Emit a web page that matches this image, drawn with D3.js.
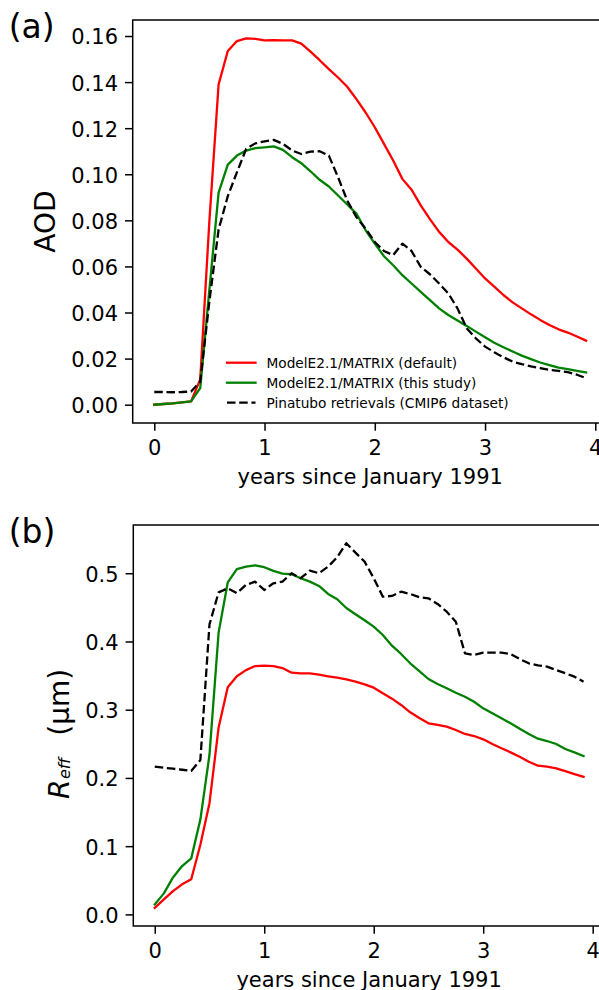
<!DOCTYPE html>
<html>
<head>
<meta charset="utf-8">
<script src="https://cdn.jsdelivr.net/npm/d3@7/dist/d3.min.js"></script>
<style>
  html, body { margin: 0; padding: 0; background: #ffffff; }
  svg { display: block; font-family: "DejaVu Sans", sans-serif; }
</style>
</head>
<body>
<svg id="fig" width="599" height="990"></svg>
<script>
// Monthly model output, January 1991 onwards (48 months)
const monthIndex = d3.range(48);
const years = monthIndex.map(m => m / 12);

// Panel (a): aerosol optical depth
const aodDefault = [0.0, 0.0003, 0.0006, 0.001, 0.0014, 0.011, 0.08, 0.139, 0.1535, 0.1578,
  0.159, 0.1588, 0.1581, 0.1582, 0.1581, 0.1581, 0.1567, 0.1532, 0.1495, 0.1456,
  0.142, 0.138, 0.1326, 0.1268, 0.1204, 0.1132, 0.106, 0.098, 0.0933, 0.0865,
  0.0805, 0.075, 0.0706, 0.0673, 0.0634, 0.0591, 0.0548, 0.0512, 0.0476, 0.0444,
  0.0418, 0.0392, 0.0368, 0.0346, 0.0327, 0.0313, 0.0296, 0.0278];
const aodThisStudy = [0.0, 0.0003, 0.0006, 0.001, 0.0014, 0.0072, 0.05, 0.092, 0.1042, 0.1081,
  0.1103, 0.1113, 0.1117, 0.1121, 0.1106, 0.1074, 0.1048, 0.1013, 0.0976, 0.0947,
  0.0908, 0.0869, 0.0829, 0.0757, 0.0699, 0.0644, 0.0605, 0.0562, 0.0526, 0.049,
  0.0454, 0.0418, 0.0389, 0.0365, 0.0342, 0.0317, 0.0293, 0.0269, 0.0249, 0.0231,
  0.0213, 0.0198, 0.0183, 0.0172, 0.0161, 0.0154, 0.0147, 0.014];
const aodRetrieval = [0.0055, 0.0055, 0.0054, 0.0055, 0.0057, 0.01, 0.045, 0.076, 0.0905, 0.1009,
  0.111, 0.1134, 0.1143, 0.1149, 0.1132, 0.1103, 0.1088, 0.1098, 0.11, 0.1081,
  0.0987, 0.0886, 0.0814, 0.0764, 0.0706, 0.0667, 0.0649, 0.0699, 0.0667, 0.0598,
  0.0566, 0.0526, 0.0483, 0.0418, 0.0332, 0.0288, 0.0252, 0.0228, 0.0206, 0.0187,
  0.0176, 0.0166, 0.0159, 0.0151, 0.0147, 0.0141, 0.013, 0.0115];

// Panel (b): effective radius (μm)
const reffDefault = [0.0097, 0.022, 0.0342, 0.044, 0.0515, 0.102, 0.163, 0.274, 0.333, 0.349,
  0.358, 0.364, 0.3646, 0.364, 0.3611, 0.3543, 0.3533, 0.3533, 0.3513, 0.349,
  0.347, 0.3445, 0.341, 0.3372, 0.3323, 0.324, 0.3162, 0.307, 0.2962, 0.2878,
  0.28, 0.2776, 0.2751, 0.2702, 0.2644, 0.2614, 0.2566, 0.2497, 0.2434, 0.2375,
  0.2311, 0.2238, 0.2179, 0.2165, 0.214, 0.2101, 0.2057, 0.2018];
const reffThisStudy = [0.0147, 0.0308, 0.0542, 0.0708, 0.0821, 0.139, 0.234, 0.413, 0.4865, 0.5059,
  0.5097, 0.5117, 0.5088, 0.5034, 0.4995, 0.4985, 0.4927, 0.4877, 0.4814, 0.4697,
  0.4619, 0.4491, 0.4399, 0.4311, 0.4217, 0.4095, 0.3938, 0.3817, 0.368, 0.3567,
  0.345, 0.3377, 0.3314, 0.3249, 0.319, 0.3117, 0.302, 0.2947, 0.2874, 0.28,
  0.2722, 0.2644, 0.2575, 0.2541, 0.2497, 0.2424, 0.2375, 0.2321];
const reffRetrieval = [0.2165, 0.215, 0.2135, 0.212, 0.2103, 0.2262, 0.425, 0.472, 0.478, 0.4707,
  0.4829, 0.4877, 0.4755, 0.4853, 0.4877, 0.5, 0.4927, 0.5038, 0.5, 0.5097,
  0.5235, 0.544, 0.5302, 0.517, 0.4927, 0.4657, 0.4667, 0.473, 0.4697, 0.4648,
  0.4633, 0.455, 0.4437, 0.429, 0.3827, 0.3802, 0.3836, 0.3836, 0.3836, 0.3817,
  0.3743, 0.368, 0.3651, 0.3631, 0.3582, 0.3534, 0.3484, 0.341];

const seriesNames = ["ModelE2.1/MATRIX (default)", "ModelE2.1/MATRIX (this study)", "Pinatubo retrievals (CMIP6 dataset)"];
const seriesColors = ["#ff0000", "#008000", "#000000"];
const seriesDashed = [false, false, true];

const xTicks = [0, 1, 2, 3, 4];
const aodTicks = [0.00, 0.02, 0.04, 0.06, 0.08, 0.10, 0.12, 0.14, 0.16];
const reffTicks = [0.0, 0.1, 0.2, 0.3, 0.4, 0.5];
const xLabel = "years since January 1991";

const svg = d3.select("#fig");
const LW = 2.3, DASH = "8.5,3.7";
const TICK_FS = 21, TICK_LEN = 7.7, AX_LW = 1.5;

// matplotlib-style 5% data margins
function padded(ext) {
  const d = ext[1] - ext[0];
  return [ext[0] - 0.05 * d, ext[1] + 0.05 * d];
}

function drawPanel(cfg) {
  const g = svg.append("g");
  const x = d3.scaleLinear().domain(padded(d3.extent(years))).range([cfg.left, cfg.right]);
  const allVals = cfg.series.flat();
  const y = d3.scaleLinear().domain(padded(d3.extent(allVals))).range([cfg.bottom, cfg.top]);

  // data lines
  const line = d3.line().x((d, i) => x(years[i])).y(d => y(d));
  cfg.series.forEach((vals, k) => {
    g.append("path")
      .datum(vals)
      .attr("d", line)
      .attr("fill", "none")
      .attr("stroke", seriesColors[k])
      .attr("stroke-width", LW)
      .attr("stroke-linejoin", "round")
      .attr("stroke-linecap", seriesDashed[k] ? "butt" : "square")
      .attr("stroke-dasharray", seriesDashed[k] ? DASH : null);
  });

  // axes frame
  g.append("rect")
    .attr("x", cfg.left).attr("y", cfg.top)
    .attr("width", cfg.right - cfg.left).attr("height", cfg.bottom - cfg.top)
    .attr("fill", "none").attr("stroke", "#000").attr("stroke-width", AX_LW);

  // y axis
  const yAx = g.append("g").attr("transform", `translate(${cfg.left},0)`)
    .call(d3.axisLeft(y).tickValues(cfg.yTicks).tickFormat(d3.format(cfg.yFormat))
      .tickSize(TICK_LEN).tickPadding(7));
  yAx.select(".domain").remove();
  yAx.selectAll(".tick line").attr("stroke", "#000").attr("stroke-width", AX_LW);
  yAx.selectAll(".tick text").attr("font-size", TICK_FS).attr("fill", "#000")
    .attr("font-family", "DejaVu Sans").attr("dy", "0.38em");

  // x axis
  const xAx = g.append("g").attr("transform", `translate(0,${cfg.bottom})`)
    .call(d3.axisBottom(x).tickValues(xTicks).tickFormat(d3.format("d"))
      .tickSize(TICK_LEN).tickPadding(7));
  xAx.select(".domain").remove();
  xAx.selectAll(".tick line").attr("stroke", "#000").attr("stroke-width", AX_LW);
  xAx.selectAll(".tick text").attr("font-size", TICK_FS).attr("fill", "#000")
    .attr("font-family", "DejaVu Sans").attr("y", 31.5).attr("dy", null);

  // x label centred on the axes
  g.append("text")
    .attr("x", (cfg.left + cfg.right) / 2).attr("y", cfg.bottom + 60.5)
    .attr("text-anchor", "middle").attr("font-size", TICK_FS).attr("fill", "#000")
    .text(xLabel);

  // panel tag
  g.append("text")
    .attr("x", 8.7).attr("y", cfg.top + cfg.tagDy)
    .attr("font-size", 33).attr("fill", "#000")
    .text(cfg.tag);

  return { g, x, y };
}

// Panel (a)
const pa = drawPanel({
  left: 132.7, right: 607.7, top: 20, bottom: 423,
  series: [aodDefault, aodThisStudy, aodRetrieval],
  yTicks: aodTicks, yFormat: ".2f", tag: "(a)", tagDy: 17.5
});
pa.g.append("text")
  .attr("transform", `translate(55,${(20 + 423) / 2}) rotate(-90)`)
  .attr("text-anchor", "middle").attr("font-size", 28).attr("fill", "#000")
  .text("AOD");

// legend for panel (a)
const leg = pa.g.append("g");
seriesNames.forEach((name, k) => {
  const cy = 362.7 + k * 20;
  leg.append("line")
    .attr("x1", 227).attr("x2", 255.5).attr("y1", cy).attr("y2", cy)
    .attr("stroke", seriesColors[k]).attr("stroke-width", LW)
    .attr("stroke-linecap", seriesDashed[k] ? "butt" : "square")
    .attr("stroke-dasharray", seriesDashed[k] ? DASH : null);
  leg.append("text")
    .attr("x", 266.5).attr("y", cy + 5)
    .attr("font-size", 13.7).attr("fill", "#000")
    .text(name);
});

// Panel (b)
const pb = drawPanel({
  left: 133.3, right: 605, top: 525, bottom: 926,
  series: [reffDefault, reffThisStudy, reffRetrieval],
  yTicks: reffTicks, yFormat: ".1f", tag: "(b)", tagDy: 17.5
});
const yl = pb.g.append("text")
  .attr("transform", "translate(68.5,799) rotate(-90)")
  .attr("text-anchor", "start").attr("font-size", 28).attr("fill", "#000");
yl.append("tspan").attr("font-style", "italic").text("R");
yl.append("tspan").attr("font-style", "italic").attr("font-size", 16)
  .attr("dx", 0.5).attr("dy", 1.5).text("eff");
yl.append("tspan").attr("dx", 13).attr("dy", -1.5).text(" (μm)");
</script>
</body>
</html>
